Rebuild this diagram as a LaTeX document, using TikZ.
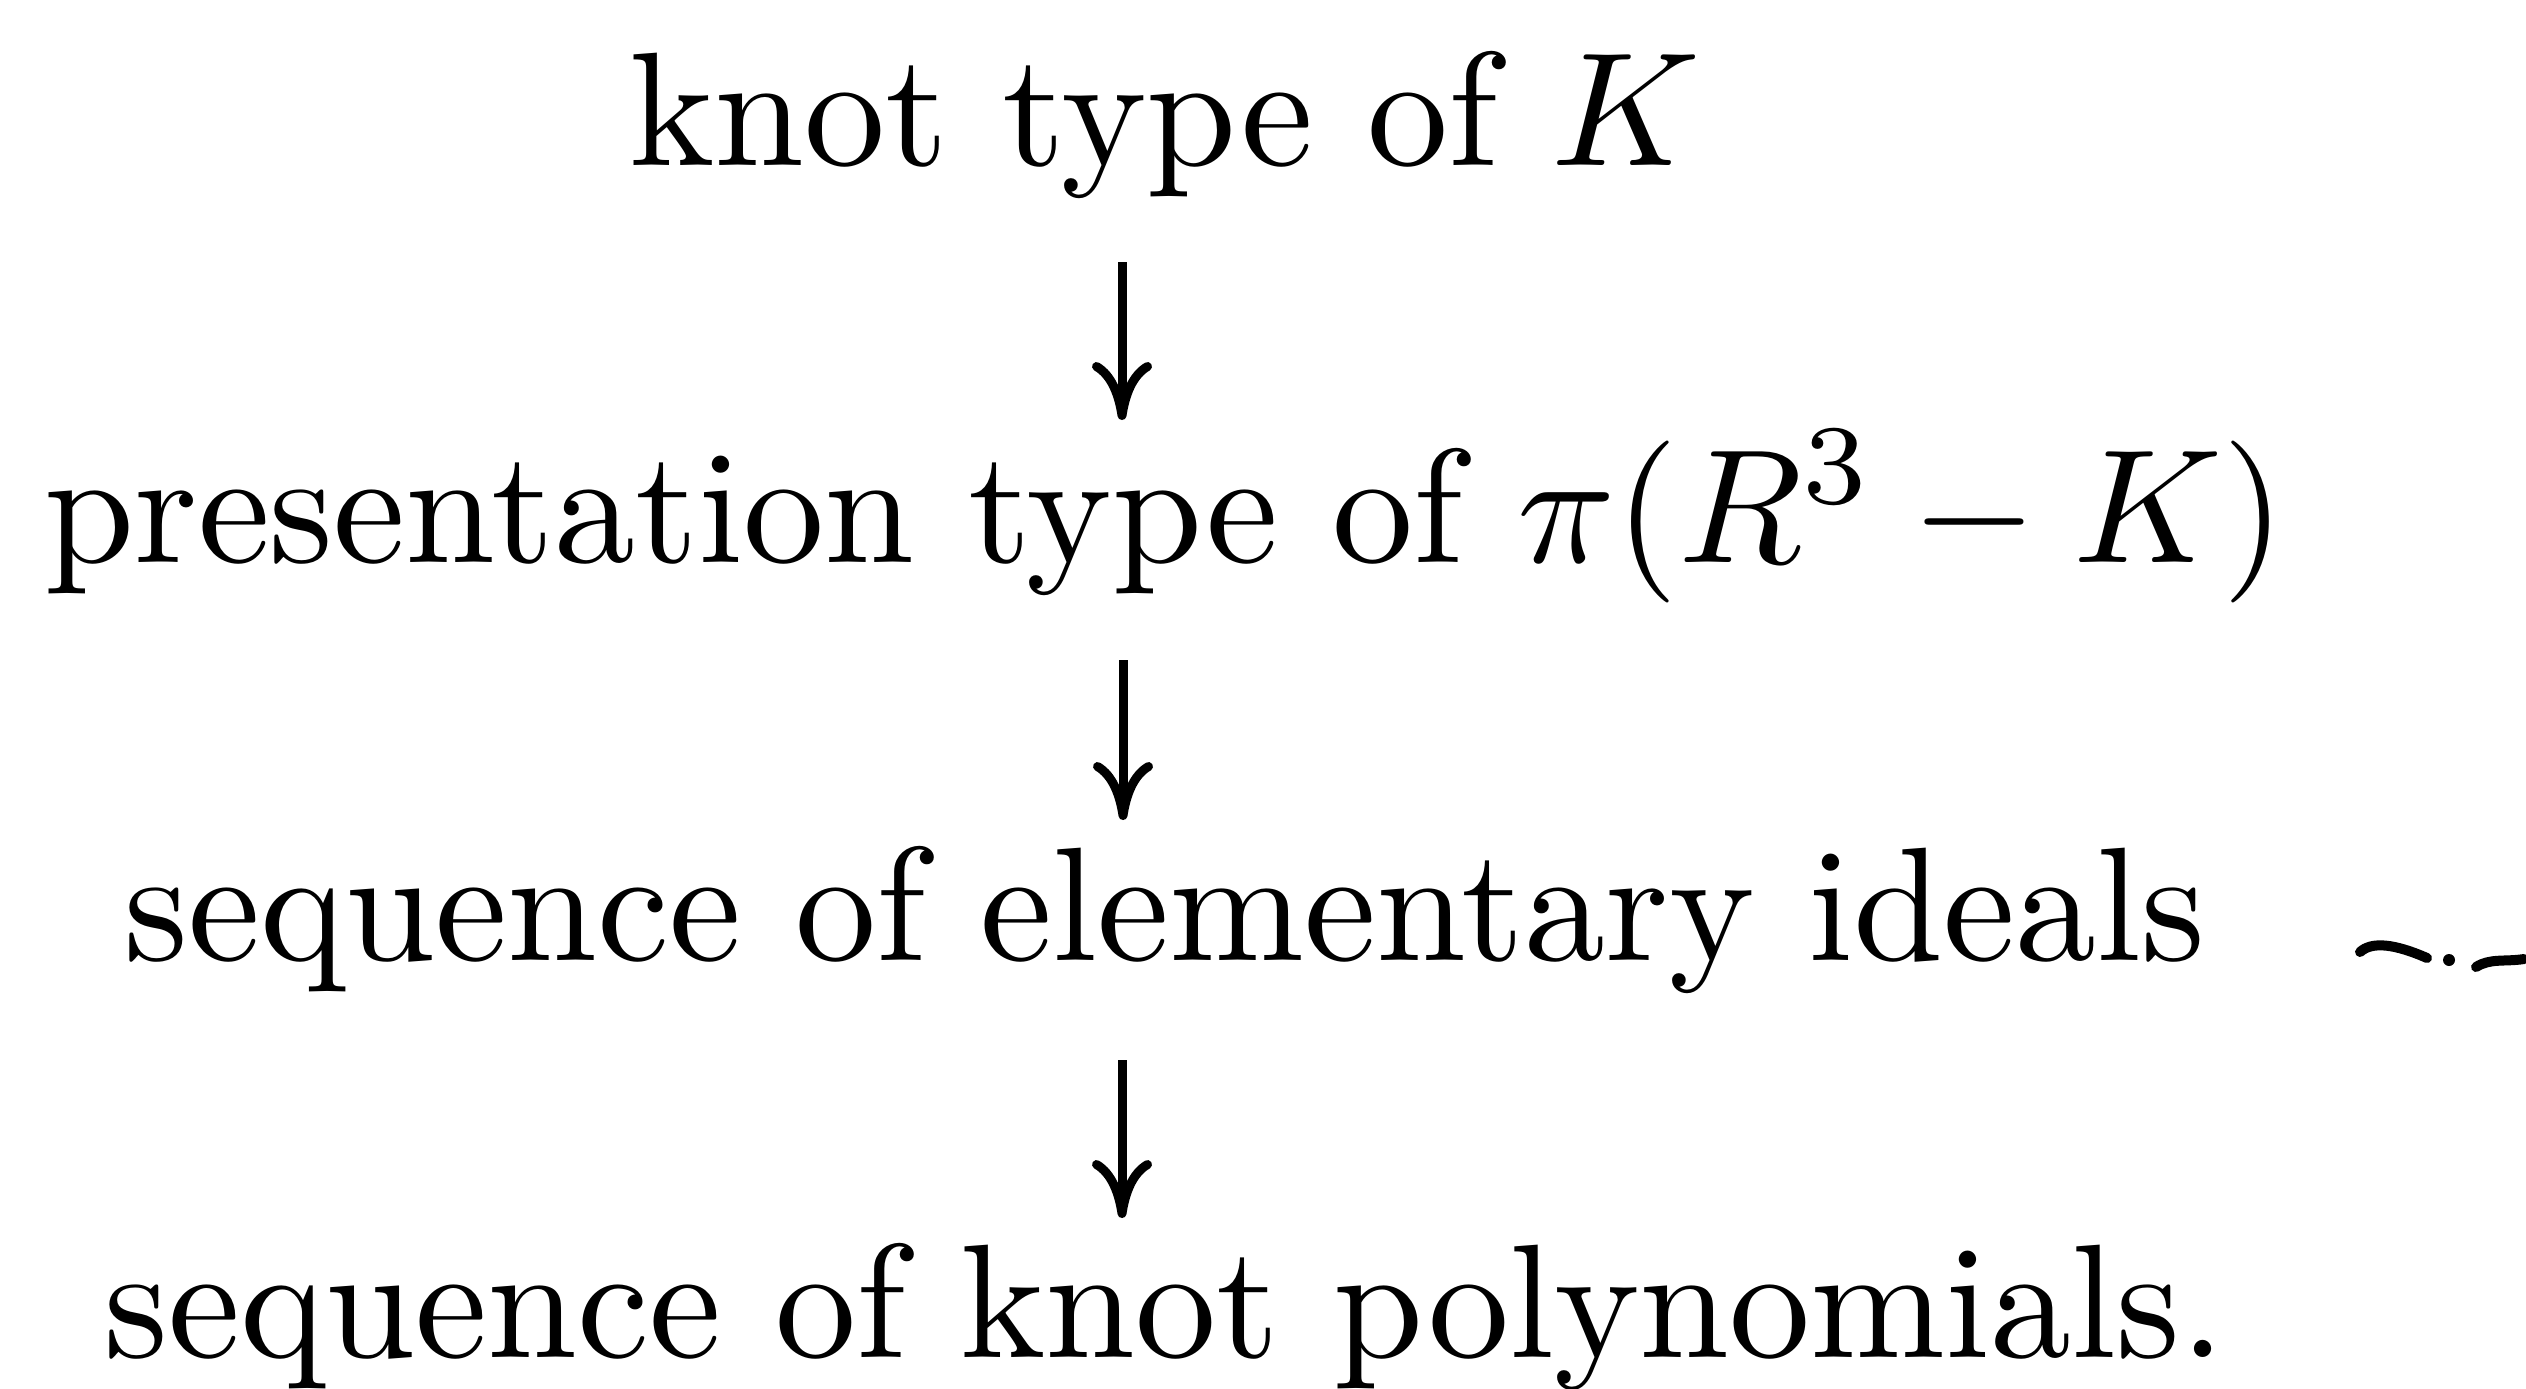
\documentclass[tikz,border=0pt]{standalone}
\usetikzlibrary{arrows.meta,calc}
\begin{document}
\begin{tikzpicture}[x=0.1pt,y=-0.1pt,
  lbl/.style={anchor=base,inner sep=0pt,outer sep=0pt,font=\fontsize{10}{12}\selectfont},
  arr/.style={line width=0.9pt,-{Computer Modern Rightarrow[length=5.8pt,width=6pt,line width=0.9pt]}},
  squig/.style={line width=1.0pt,line cap=round}]
\useasboundingbox (0,0) rectangle (2526,1388);
\node[lbl] (n1) at (1165,165) {\scalebox{1.62}{knot type of $K$}};
\node[lbl] (n2) at (1165,562) {\scalebox{1.62}{presentation type of $\pi(R^3-K)$}};
\node[lbl] (n3) at (1165,960) {\scalebox{1.62}{sequence of elementary ideals}};
\node[lbl] (n4) at (1165,1357) {\scalebox{1.62}{sequence of knot polynomials.}};
\draw[arr] ($(n1.base)+(-43,97)$) -- ($(n2.base)+(-43,-142)$);
\draw[arr] ($(n2.base)+(-42,98)$) -- ($(n3.base)+(-42,-140)$);
\draw[arr] ($(n3.base)+(-43,100)$) -- ($(n4.base)+(-43,-139)$);
% cut-off squiggle at the right edge
\coordinate (s1) at (2360,952);
\coordinate (s2) at (2427,958);
\coordinate (s3) at (2476,967);
\coordinate (s4) at (2524,959);
\draw[squig] (s1) .. controls (2372,941) and (2395,944) .. (s2);
\fill (2449,960) circle (6);
\draw[squig] (s3) .. controls (2490,958) and (2505,962) .. (s4);
\end{tikzpicture}
\end{document}
